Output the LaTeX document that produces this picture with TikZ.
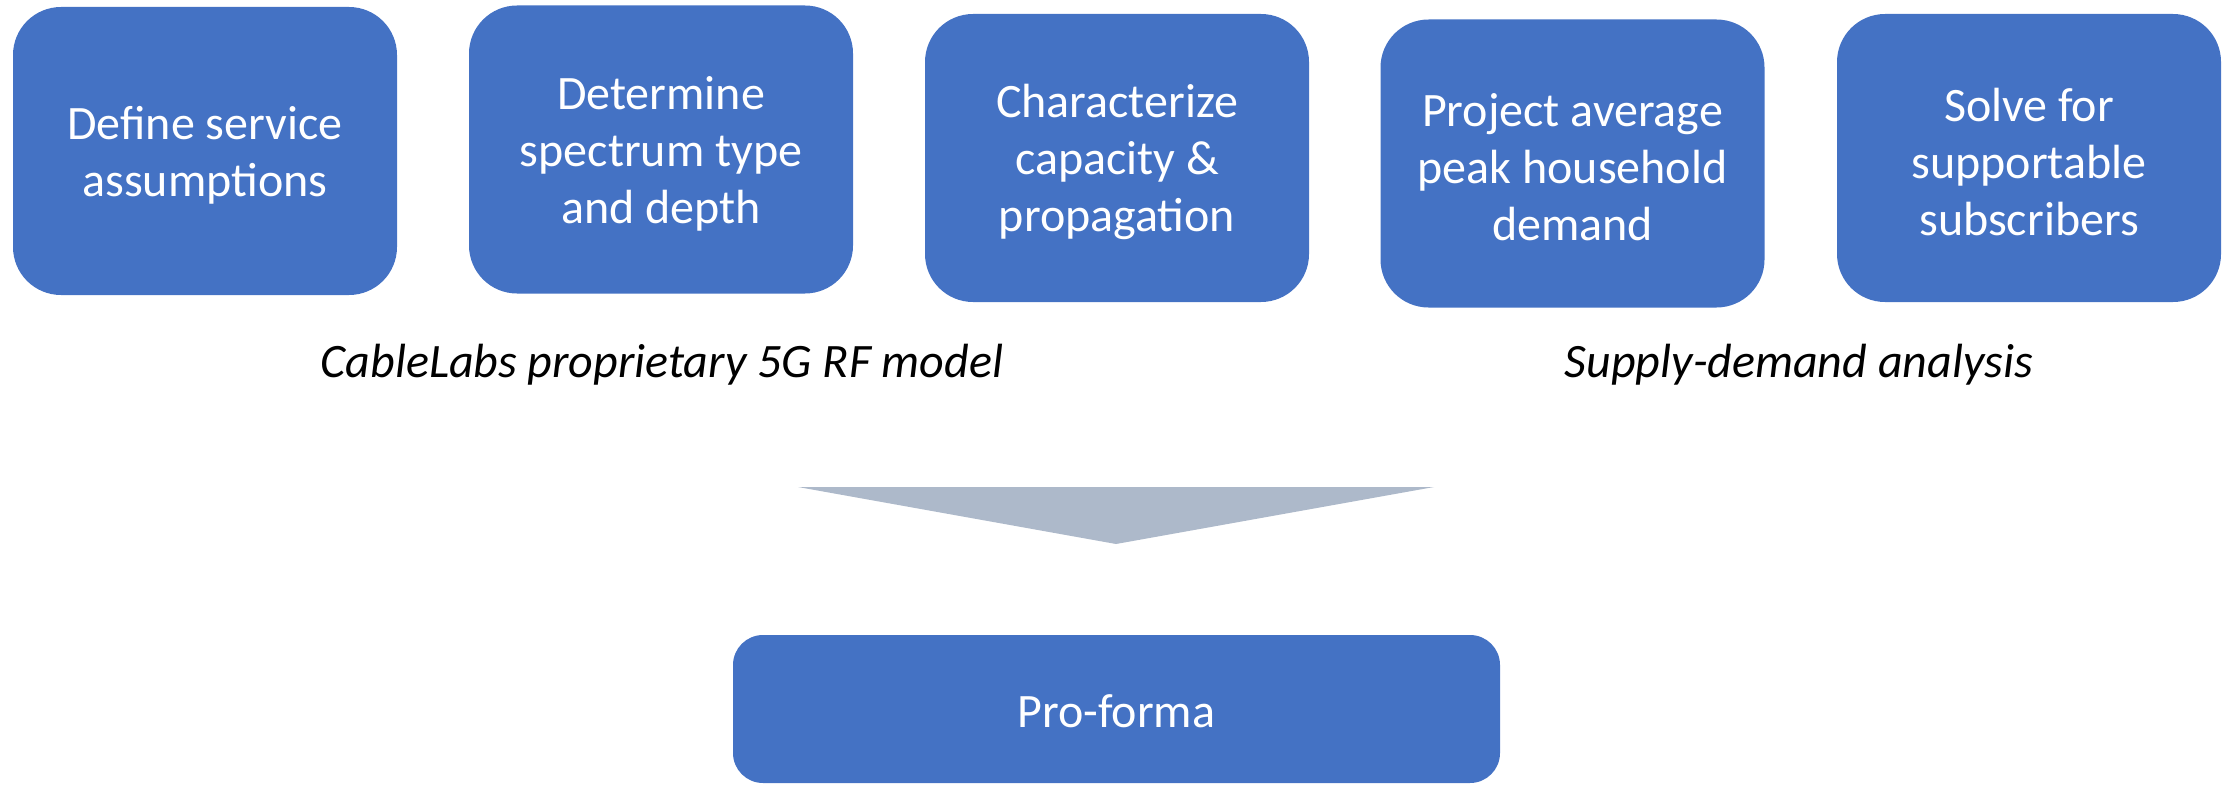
\documentclass[tikz,border=0pt]{standalone}
\usepackage{fontspec}
\setmainfont{Carlito}
\definecolor{stepblue}{HTML}{4472C4}
\definecolor{funnelgray}{HTML}{ADB9CA}
\begin{document}
\begin{tikzpicture}[x=1pt,y=-1pt,
  stepbox/.style={fill=stepblue, rounded corners=48pt, inner sep=0pt,
    minimum width=384pt, minimum height=288pt},
  resultbox/.style={fill=stepblue, rounded corners=30pt, inner sep=0pt,
    minimum width=767pt, minimum height=148pt},
  boxtext/.style={inner sep=0pt, text=white, align=center,
    font=\fontsize{48}{57}\selectfont},
  grouplabel/.style={inner sep=0pt, font=\fontsize{48}{57}\selectfont\itshape}]
  \useasboundingbox (0,0) rectangle (2226,784);

  % five process steps
  \node[stepbox] (s1) at (205,151)      {};
  \node[stepbox] (s2) at (661,149.5)    {};
  \node[stepbox] (s3) at (1117,158)     {};
  \node[stepbox] (s4) at (1572.5,163.5) {};
  \node[stepbox] (s5) at (2029,158)     {};
  \node[boxtext] (t1) at ([yshift=-4pt]s1.center) {Define service\\assumptions};
  \node[boxtext] (t2) at ([yshift=-4pt]s2.center) {Determine\\spectrum type\\and depth};
  \node[boxtext] (t3) at ([yshift=-4pt]s3.center) {Characterize\\capacity \&\\propagation};
  \node[boxtext] (t4) at ([yshift=-4pt]s4.center) {Project average\\peak household\\demand};
  \node[boxtext] (t5) at ([yshift=-4pt]s5.center) {Solve for\\supportable\\subscribers};

  % group captions
  \node[grouplabel] (g1) at (662,365)  {CableLabs proprietary 5G RF model};
  \node[grouplabel] (g2) at (1799,365) {Supply-demand analysis};

  % funnel pointing to the result
  \coordinate (fl) at (798,487);
  \coordinate (fr) at (1434,487);
  \coordinate (fa) at (1116,544);
  \fill[funnelgray] (fl) -- (fr) -- (fa) -- cycle;

  % result
  \node[resultbox] (pf) at (1116.5,709) {};
  \node[boxtext] (tp) at ([yshift=-2pt]pf.center) {Pro-forma};
\end{tikzpicture}
\end{document}
